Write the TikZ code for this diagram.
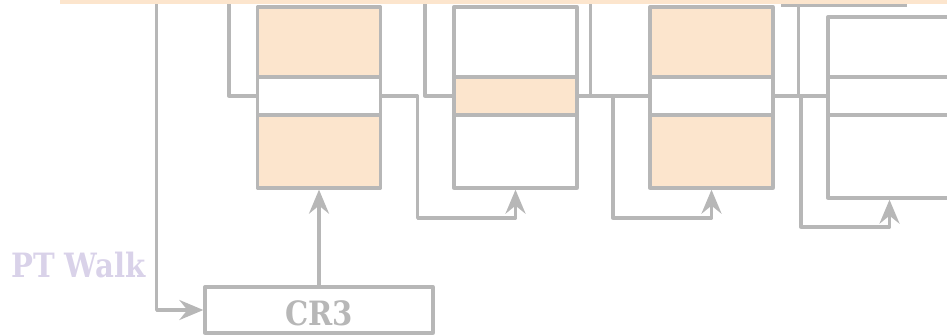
\documentclass[tikz,border=0pt]{standalone}
\usepackage{fontspec}
\newfontfamily\slab[FakeStretch=0.87]{DejaVu Serif}
\usetikzlibrary{arrows.meta}
\definecolor{edge}{HTML}{B7B7B7}
\definecolor{peach}{HTML}{FCE5CD}
\definecolor{lav}{HTML}{D9D2E9}
\tikzset{
  cell/.style={draw=edge, line width=3.3pt, minimum width=123pt, inner sep=0pt, line join=round},
  wire/.style={draw=edge, line width=3.3pt, line join=round},
  tip/.style={-{Stealth[length=24pt, width=20pt, inset=8pt]}},
  tag/.style={font=\slab\bfseries\fontsize{33.5}{34}\selectfont, inner sep=0pt}
}
\begin{document}
\begin{tikzpicture}[x=1pt, y=-1pt]
\useasboundingbox (0,0) rectangle (947,335);

% page-table levels: three cells each
\node[cell, fill=peach, minimum height=70pt] (b1t) at (319,42) {};
\node[cell, fill=white, minimum height=38pt] (b1m) at (319,96) {};
\node[cell, fill=peach, minimum height=73pt] (b1b) at (319,151.5) {};

\node[cell, fill=white, minimum height=70pt] (b2t) at (515.5,42) {};
\node[cell, fill=peach, minimum height=38pt] (b2m) at (515.5,96) {};
\node[cell, fill=white, minimum height=73pt] (b2b) at (515.5,151.5) {};

\node[cell, fill=peach, minimum height=70pt] (b3t) at (711.5,42) {};
\node[cell, fill=white, minimum height=38pt] (b3m) at (711.5,96) {};
\node[cell, fill=peach, minimum height=73pt] (b3b) at (711.5,151.5) {};

\node[cell, fill=white, minimum height=60pt] (b4t) at (889.5,47) {};
\node[cell, fill=white, minimum height=38pt] (b4m) at (889.5,96) {};
\node[cell, fill=white, minimum height=83pt] (b4b) at (889.5,156.5) {};

% CR3 register
\node[cell, minimum width=228pt, minimum height=46pt] (cr3) at (319,310) {};
\node[tag, text=edge, anchor=base] (cr3txt) at (319,325) {CR3};
\node[tag, text=lav, anchor=base west] (walk) at (11,277) {PT Walk};

% entries coming down from above
\coordinate (in1) at (229,0);
\coordinate (in2) at (425,0);
\coordinate (in3) at (590.7,0);
\coordinate (in4) at (798.7,5.5);
\draw[wire] (in1) |- (b1m.west);
\draw[wire] (in2) |- (b2m.west);
\draw[wire] (in3) |- (b3m.west);
\draw[wire] (in4) |- (b4m.west);
\coordinate (t4a) at (781,5.5);
\coordinate (t4b) at (907,5.5);
\draw[wire] (t4a) -- (t4b);

% links from each entry to the next level
\draw[wire] (b2m.east) -- (b3m.west);
\draw[wire] (b3m.east) -- (b4m.west);
\draw[wire, tip] (b1m.east) -- (417.7,96) -- (417.7,218) -| (b2b.south);
\draw[wire, tip] (b2m.east) -- (613,96) -- (613,218) -| (b3b.south);
\draw[wire, tip] (b3m.east) -- (801,96) -- (801,227) -| (b4b.south);

% walk start
\coordinate (w0) at (156.7,0);
\draw[wire, tip] (w0) |- (cr3.west);
\draw[wire, tip] (cr3.north) -- (b1b.south);

% top band
\fill[peach] (60,0) rectangle (947,3.7);
\end{tikzpicture}
\end{document}
